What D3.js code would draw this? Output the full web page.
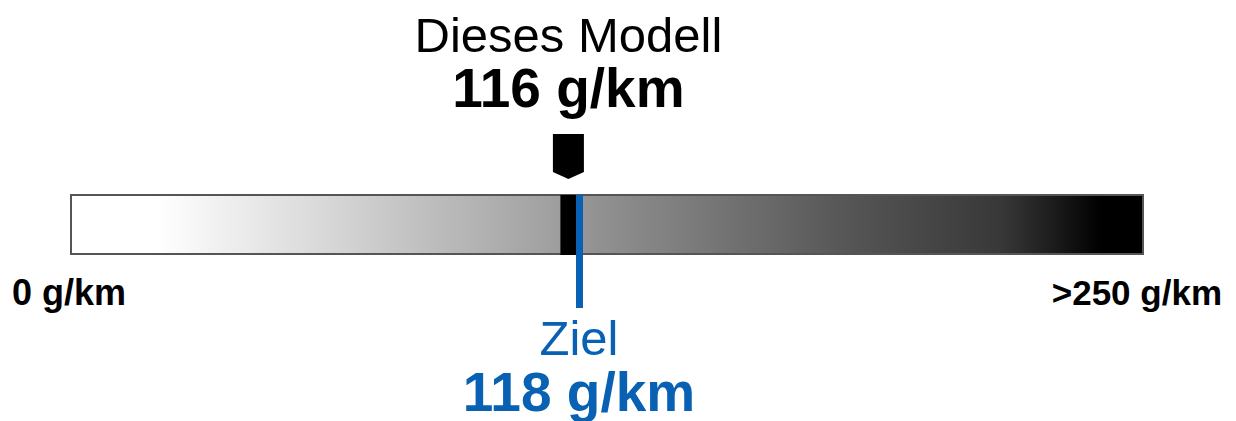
<!DOCTYPE html>
<html><head><meta charset="utf-8">
<script src="https://cdn.jsdelivr.net/npm/d3@7"></script>
<style>html,body{margin:0;padding:0;background:#fff;}svg{display:block;}</style>
</head><body>
<svg id="c" width="1236" height="421"></svg>
<script>
const domainMin = 0, domainMax = 250;
const modelValue = 116;
const targetValue = 118;
const modelLabels = ["Dieses Modell", "116 g/km"];
const targetLabels = ["Ziel", "118 g/km"];
const endLabels = ["0 g/km", ">250 g/km"];
const gradStops = [[0, 255], [0.08, 255], [0.26, 210], [0.447, 160], [0.493, 145], [0.727, 85], [0.867, 56], [0.923, 24], [0.96, 0], [1, 0]];

const svg = d3.select("#c");
const font = "'Liberation Sans', Arial, sans-serif";
const x = d3.scaleLinear().domain([domainMin, domainMax]).range([71, 1143]);
const barY = 195, barH = 59;
const blue = "#0861b2";

const defs = svg.append("defs");
const lg = defs.append("linearGradient").attr("id", "g").attr("x1", "0").attr("x2", "1").attr("y1", "0").attr("y2", "0");
gradStops.forEach(([o, v]) => lg.append("stop").attr("offset", o).attr("stop-color", d3.rgb(v, v, v)));

svg.append("rect").attr("x", x(domainMin)).attr("y", barY).attr("width", x(domainMax) - x(domainMin)).attr("height", barH)
  .attr("fill", "url(#g)").attr("stroke", "#555").attr("stroke-width", 2);

// model band
const xm = x(modelValue);
svg.append("rect").attr("x", xm - 8).attr("y", barY).attr("width", 16).attr("height", barH + 1).attr("fill", "#000");
// marker
svg.append("path").attr("d", `M${xm-15.5},134 L${xm+15.5},134 L${xm+15.5},172 L${xm},179 L${xm-15.5},172 Z`).attr("fill", "#000");

// target line
const xt = x(targetValue);
svg.append("rect").attr("x", xt - 1).attr("y", barY).attr("width", 7).attr("height", 308 - barY).attr("fill", blue);

svg.append("text").attr("x", xm).attr("y", 52).attr("text-anchor", "middle").attr("font-family", font)
  .attr("font-size", 49).attr("fill", "#000").text(modelLabels[0]);
svg.append("text").attr("x", xm).attr("y", 107).attr("text-anchor", "middle").attr("font-family", font)
  .attr("font-size", 55).attr("font-weight", "bold").attr("fill", "#000").text(modelLabels[1]);

svg.append("text").attr("x", xt + 2).attr("y", 355).attr("text-anchor", "middle").attr("font-family", font)
  .attr("font-size", 49).attr("fill", blue).text(targetLabels[0]);
svg.append("text").attr("x", xt + 2).attr("y", 411).attr("text-anchor", "middle").attr("font-family", font)
  .attr("font-size", 55).attr("font-weight", "bold").attr("fill", blue).text(targetLabels[1]);

svg.append("text").attr("x", 12).attr("y", 305).attr("text-anchor", "start").attr("font-family", font)
  .attr("font-size", 36).attr("font-weight", "bold").attr("fill", "#000").text(endLabels[0]);
svg.append("text").attr("x", 1222).attr("y", 305).attr("text-anchor", "end").attr("font-family", font)
  .attr("font-size", 35).attr("font-weight", "bold").attr("fill", "#000").text(endLabels[1]);
</script>
</body></html>
